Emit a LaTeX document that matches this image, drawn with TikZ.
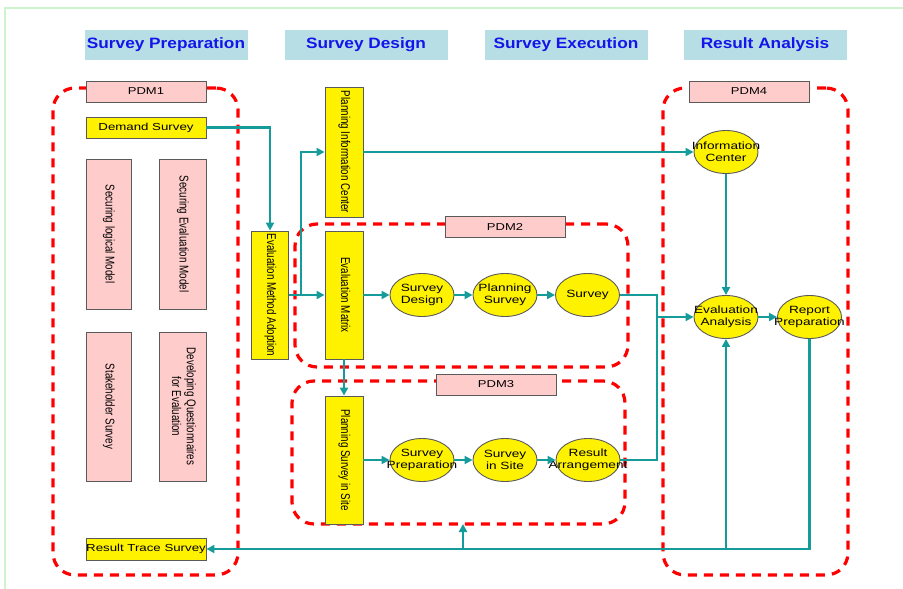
\documentclass[tikz,border=0pt]{standalone}
\usepackage{fontspec}
\usepackage{graphicx}
\setmainfont[FakeStretch=1.3]{Liberation Sans}
\newfontfamily\vfont{Liberation Sans}
\newfontfamily\hfont[FakeStretch=1.15]{Liberation Sans}
\usetikzlibrary{shapes.geometric,arrows.meta,calc}
\definecolor{tealc}{RGB}{22,155,155}
\definecolor{pinkf}{RGB}{255,204,204}
\definecolor{hdrc}{RGB}{183,222,228}
\definecolor{frameg}{RGB}{205,245,205}
\definecolor{hdrtxt}{RGB}{20,20,235}
\definecolor{bordc}{RGB}{90,90,90}
\newcommand{\vtext}[1]{\rotatebox{-90}{\scalebox{1}[1.3]{\vfont\fontsize{9.8}{11.5}\selectfont\begin{tabular}{@{}c@{}}#1\end{tabular}}}}
\begin{document}
\begin{tikzpicture}[x=1pt,y=-1pt,
  hdrbox/.style={fill=hdrc, minimum width=163pt, minimum height=30pt, inner sep=0pt,
    font=\hfont\bfseries\fontsize{15}{17}\selectfont, text=hdrtxt},
  pdmlbl/.style={draw=bordc, line width=0.9pt, fill=pinkf, minimum width=120pt, minimum height=21pt,
    inner sep=0pt, font=\fontsize{10}{12}\selectfont},
  ybox/.style={draw=bordc, line width=0.9pt, fill=yellow, inner sep=0pt, font=\fontsize{10.2}{12}\selectfont},
  pbox/.style={draw=bordc, line width=0.9pt, fill=pinkf, inner sep=0pt},
  ell/.style={ellipse, draw=bordc, line width=0.9pt, fill=yellow, minimum width=64pt, minimum height=43pt, inner sep=0pt},
  elltxt/.style={inner sep=0pt, align=center, font=\fontsize{10.5}{12}\selectfont},
  grp/.style={draw=red, line width=3.2pt, dash pattern=on 9pt off 7pt, rounded corners=22pt, inner sep=0pt, outer sep=0pt},
  conn/.style={draw=tealc, line width=2.5pt, -{Triangle[length=8pt,width=8pt]}},
  plainconn/.style={draw=tealc, line width=2.5pt},
]
\useasboundingbox (0,0) rectangle (903,589);
% frame
\draw[frameg, line width=1.5pt] (5,589) -- (5,8) -- (903,8);

% headers
\node[hdrbox] (h1) at (166,45) {Survey Preparation};
\node[hdrbox] (h2) at (366,45) {Survey Design};
\node[hdrbox] (h3) at (566,45) {Survey Execution};
\node[hdrbox] (h4) at (765,45) {Result Analysis};

% groups
\node[grp, minimum width=185pt, minimum height=487pt] (g1) at (145.5,331.5) {};
\node[grp, minimum width=333pt, minimum height=143pt] (g2) at (461.5,295.5) {};
\node[grp, minimum width=333pt, minimum height=143pt] (g3) at (458.5,452.5) {};
\node[grp, minimum width=185pt, minimum height=487pt] (g4) at (755.5,331.5) {};

% PDM labels
\node[pdmlbl] (p1) at (146,91.5) {PDM1};
\node[pdmlbl] (p2) at (505,227) {PDM2};
\node[pdmlbl] (p3) at (496,384.5) {PDM3};
\node[pdmlbl] (p4) at (749,91.5) {PDM4};

% PDM1 contents
\node[ybox, minimum width=120pt, minimum height=21pt] (ds) at (146,127.5) {Demand Survey};
\node[pbox, minimum width=45pt, minimum height=150pt] (sl) at (108.5,234) {\vtext{Securing logical Model}};
\node[pbox, minimum width=47pt, minimum height=150pt] (se) at (182.5,234) {\vtext{Securing Evaluation Model}};
\node[pbox, minimum width=45pt, minimum height=149pt] (ss) at (108.5,406.5) {\vtext{Stakeholder Survey}};
\node[pbox, minimum width=47pt, minimum height=149pt] (dq) at (182.5,406.5) {\vtext{Developing Questionnaires\\for Evaluation}};
\node[ybox, minimum width=120pt, minimum height=22pt] (rts) at (146,549) {Result Trace Survey};

% design column
\node[ybox, minimum width=37pt, minimum height=128pt] (ema) at (270,295) {\vtext{Evaluation Method Adoption}};
\node[ybox, minimum width=38pt, minimum height=130pt] (pic) at (344,152) {\vtext{Planning Information Center}};
\node[ybox, minimum width=38pt, minimum height=128pt] (em) at (344,295) {\vtext{Evaluation Matrix}};
\node[ybox, minimum width=38pt, minimum height=128pt] (psis) at (344,460) {\vtext{Planning Survey in Site}};

% ellipses
\node[ell] (sd) at (422,295) {};  \node[elltxt] (sdt) at (sd.center) {Survey\\Design};
\node[ell] (ps) at (505,295) {};  \node[elltxt] (pst) at (ps.center) {Planning\\Survey};
\node[ell] (sv) at (587.5,295) {}; \node[elltxt] (svt) at (sv.center) {Survey};
\node[ell] (sp) at (422,460) {};  \node[elltxt] (spt) at (sp.center) {Survey\\Preparation};
\node[ell] (sis) at (505,460) {}; \node[elltxt] (sist) at (sis.center) {Survey\\in Site};
\node[ell] (ra) at (588,460) {};  \node[elltxt] (rat) at (ra.center) {Result\\Arrangement};
\node[ell] (ic) at (726,152) {};  \node[elltxt] (ict) at (ic.center) {Information\\Center};
\node[ell] (ea) at (726,317) {};  \node[elltxt] (eat) at (ea.center) {Evaluation\\Analysis};
\node[ell] (rp) at (809.5,317) {}; \node[elltxt] (rpt) at (rp.center) {Report\\Preparation};

% connector coordinates
\coordinate (br) at (301,295);
\coordinate (jt) at (657,295);
\coordinate (jm) at (657,317);
\coordinate (jb) at (657,460);
\coordinate (bR) at (809.5,549);
\coordinate (bEA) at (726,549);
\coordinate (b3) at (463,549);

% connectors
\draw[conn] (ds.east) -| (ema.north);
\draw[plainconn] (ema.east) -- (br);
\draw[conn] (br) |- (pic.west);
\draw[conn] (br) -- (em.west);
\draw[conn] (pic.east) -- (ic.west);
\draw[conn] (em.east) -- (sd.west);
\draw[conn] (sd.east) -- (ps.west);
\draw[conn] (ps.east) -- (sv.west);
\draw[conn] (em.south) -- (psis.north);
\draw[conn] (psis.east) -- (sp.west);
\draw[conn] (sp.east) -- (sis.west);
\draw[conn] (sis.east) -- (ra.west);
\draw[plainconn] (sv.east) -- (jt) -- (jb) -- (ra.east);
\draw[conn] (jm) -- (ea.west);
\draw[conn] (ic.south) -- (ea.north);
\draw[conn] (ea.east) -- (rp.west);
\draw[conn] (rp.south) -- (bR) -- (rts.east);
\draw[conn] (bEA) -- (ea.south);
\draw[conn] (b3) -- (b3 |- g3.south);
\end{tikzpicture}
\end{document}
